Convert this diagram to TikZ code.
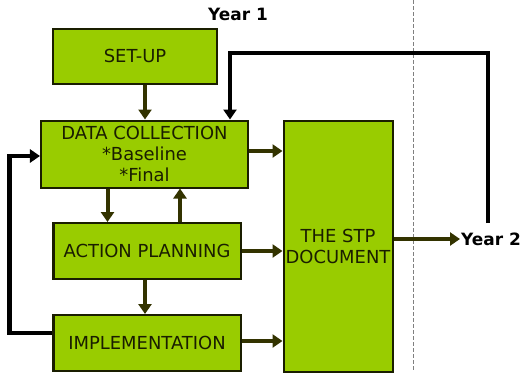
\documentclass[tikz,border=0pt]{standalone}
\usepackage{fontspec}
\setmainfont{DejaVu Sans}
\usepackage{tikz}
\definecolor{leaf}{RGB}{153,204,0}
\definecolor{boxline}{RGB}{26,30,0}
\definecolor{darkolive}{RGB}{51,51,0}
\usetikzlibrary{arrows.meta,positioning}

\begin{document}
\begin{tikzpicture}[x=1bp, y=-1bp,
    box/.style={draw=boxline, line width=2bp, fill=leaf, text=boxline,
        font=\fontsize{18}{21.5}\selectfont, align=center, inner sep=0pt},
    flow/.style={draw=darkolive, line width=4bp,
        -{Triangle[length=10bp,width=13bp]}},
    feedback/.style={draw=black, line width=4.5bp,
        -{Triangle[length=10bp,width=13bp]}},
    yearlabel/.style={font=\bfseries\fontsize{17}{20}\selectfont}]
    \useasboundingbox (0,0) rectangle (527,372);

    % Year boundary
    \draw[gray, line width=0.8bp, dash pattern=on 4bp off 2bp] (413,0) -- (413,370);
    \node[yearlabel] (yearone) at (238,14) {Year 1};

    % Boxes
    \node[box, minimum width=164bp, minimum height=55bp] (setup) at (135,56) {SET-UP};
    \node[box, minimum width=207bp, minimum height=67bp] (datacoll) at (144.5,154)
        {DATA COLLECTION\\*Baseline\\*Final};
    \node[box, minimum width=187bp, minimum height=56bp] (planning) at (147,251) {ACTION PLANNING};
    \node[box, minimum width=187bp, minimum height=56bp] (implement) at (147,343) {IMPLEMENTATION};
    \node[box, minimum width=109bp, minimum height=251bp] (stp) at (338,246.5) {THE STP\\DOCUMENT};
    \node[yearlabel, anchor=west, inner sep=1bp] (yeartwo) at (460,239) {Year 2};

    % Flow between boxes
    \draw[flow] ([xshift=10bp]setup.south) -- ([xshift=10bp]setup.south |- datacoll.north);
    \draw[flow] ([xshift=-37bp]datacoll.south) -- ([xshift=-37bp]datacoll.south |- planning.north);
    \draw[flow] ([xshift=33bp]planning.north) -- ([xshift=33bp]planning.north |- datacoll.south);
    \draw[flow] ([xshift=-2bp]planning.south) -- ([xshift=-2bp]planning.south |- implement.north);
    \draw[flow] ([yshift=3bp]datacoll.east) -- ([yshift=3bp]datacoll.east -| stp.west);
    \draw[flow] (planning.east) -- (planning.east -| stp.west);
    \draw[flow] ([yshift=2bp]implement.east) -- ([yshift=2bp]implement.east -| stp.west);
    \draw[flow] (stp.east |- yeartwo.west) -- (yeartwo.west);

    % Feedback loops
    \coordinate (loopend) at (488,223);
    \draw[feedback] (loopend) -- (loopend |- 0,53) -| ([xshift=85.5bp]datacoll.north);
    \draw[feedback] ([yshift=10bp]implement.west) -- ++(-43bp,0) |- ([yshift=-2bp]datacoll.west);
\end{tikzpicture}
\end{document}
